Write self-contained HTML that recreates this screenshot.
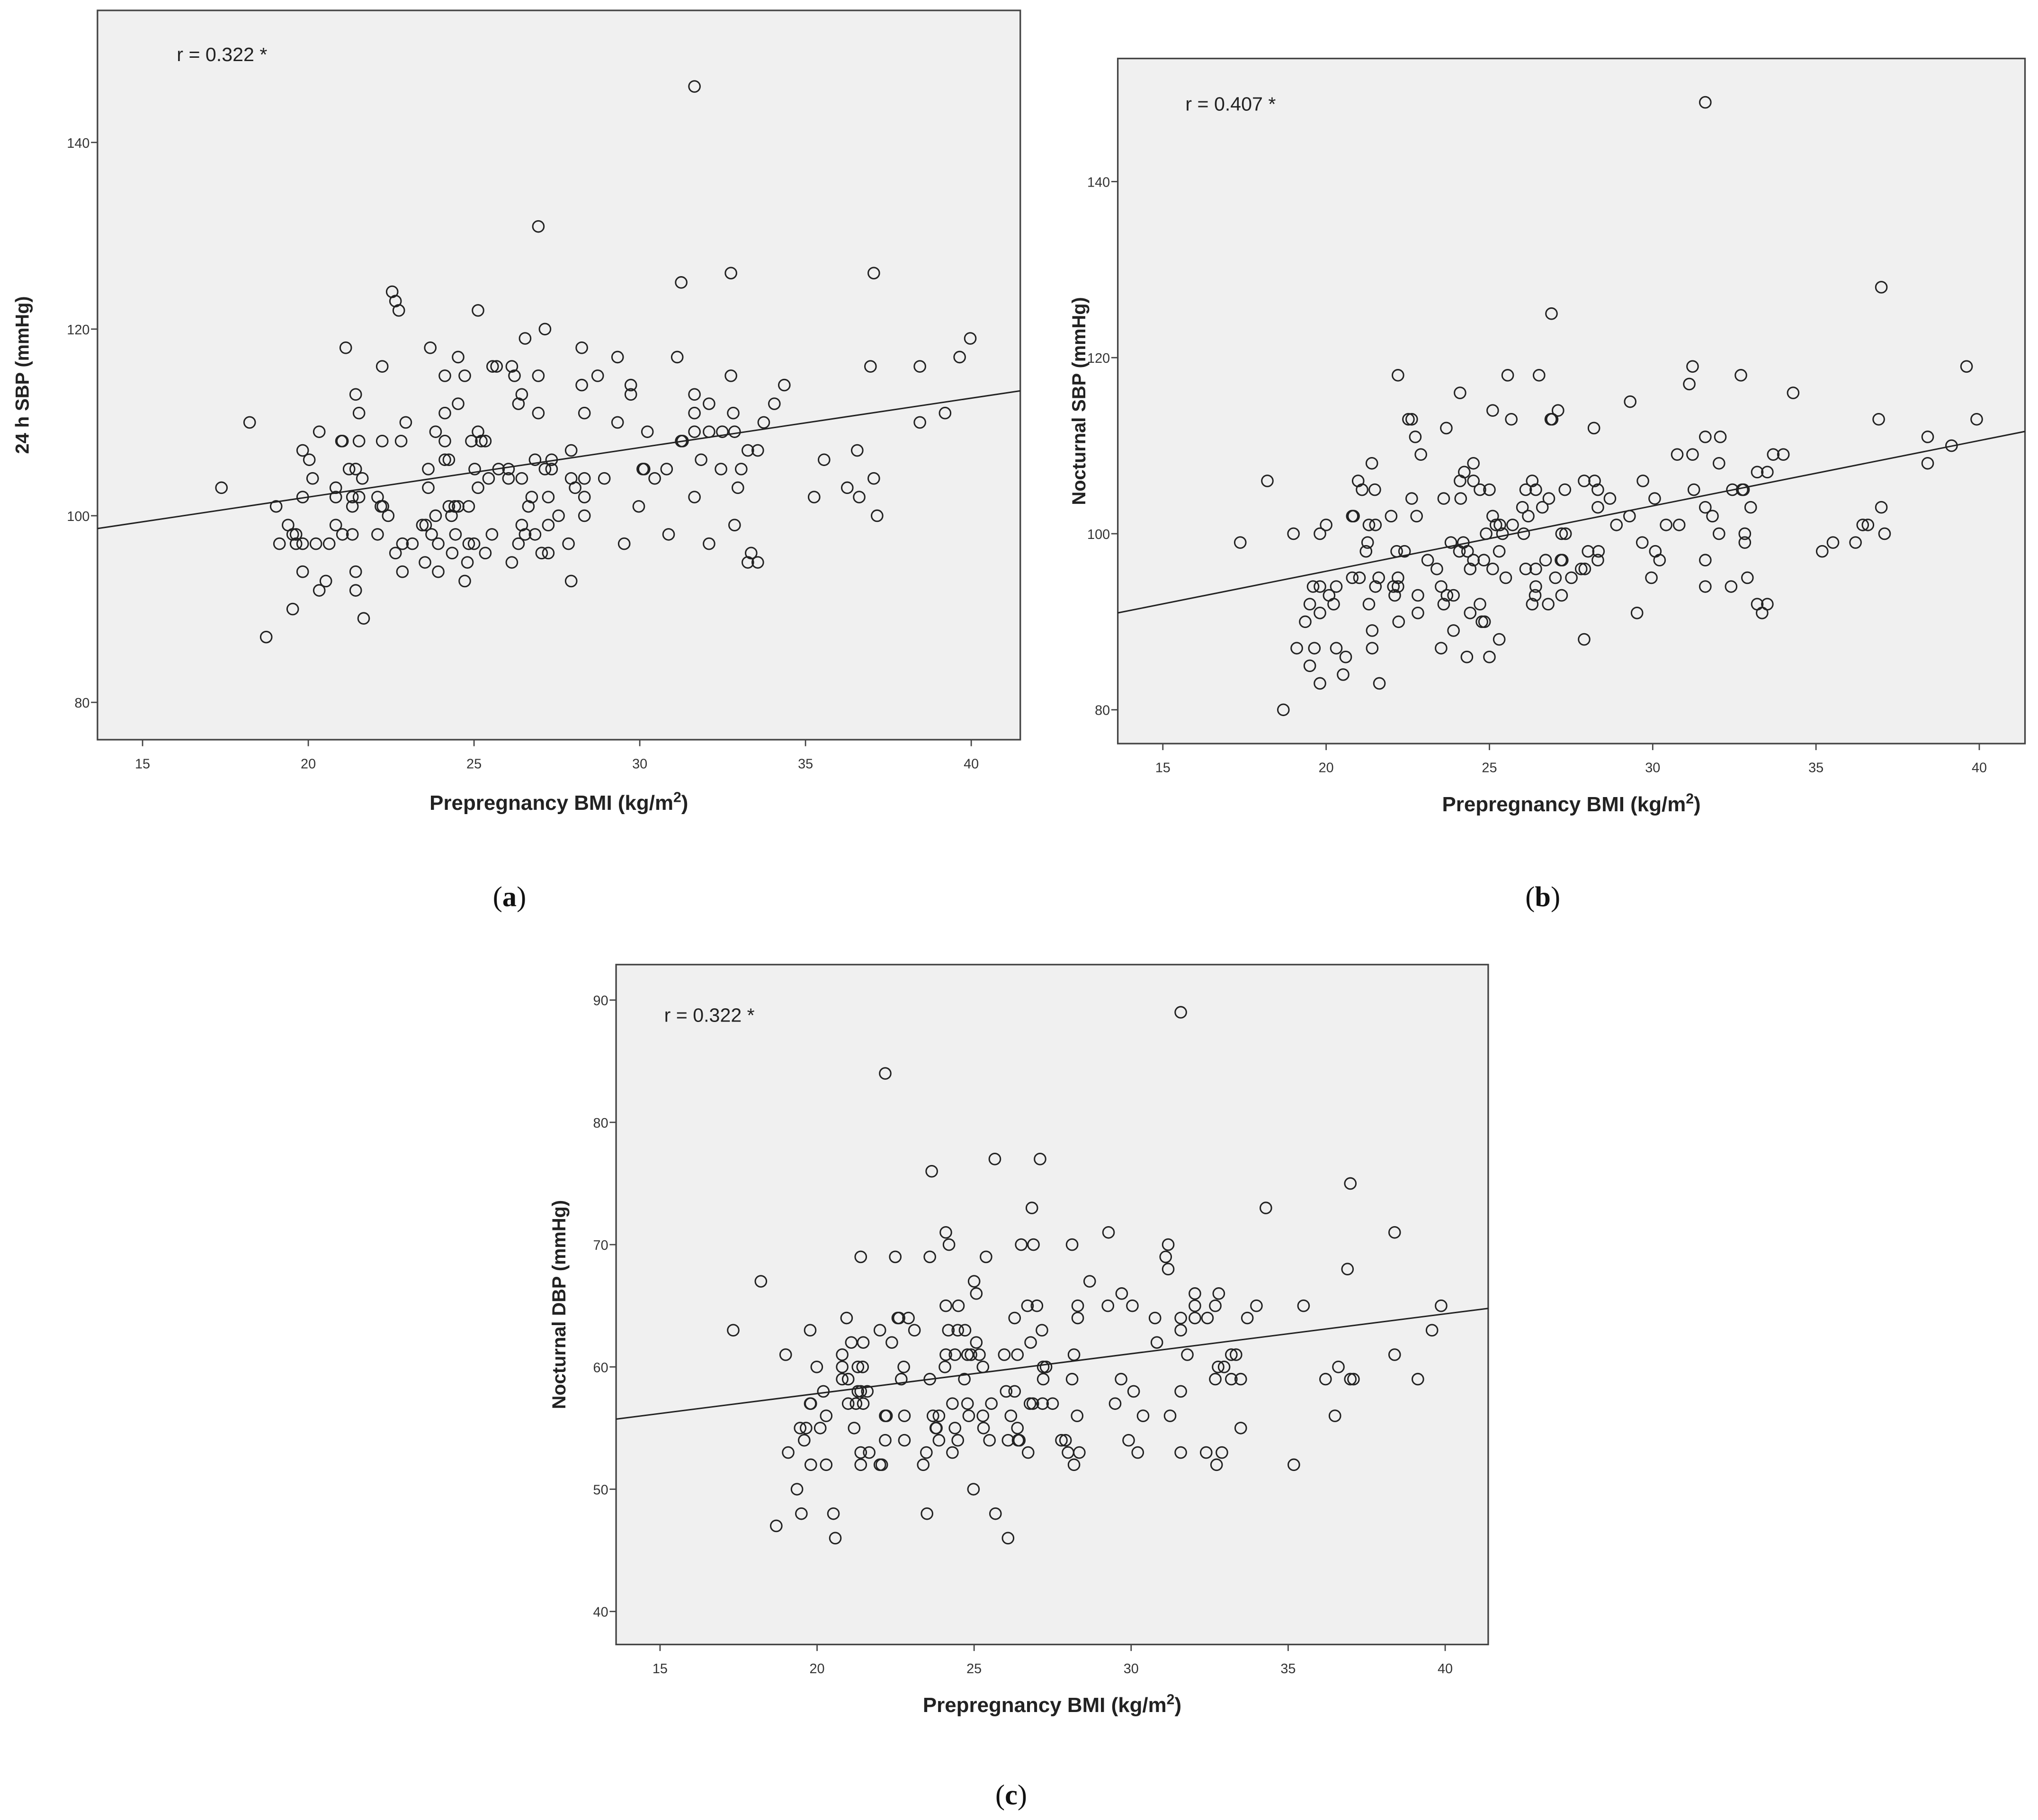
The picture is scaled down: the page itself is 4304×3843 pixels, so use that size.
<!DOCTYPE html>
<html><head><meta charset="utf-8"><style>
html,body{margin:0;padding:0;background:#fff;}
svg{display:block;}
</style></head><body>
<svg id="fig" width="4304" height="3843" viewBox="0 0 1568 1400" preserveAspectRatio="none" xmlns="http://www.w3.org/2000/svg"></svg>
<script>
// ---- data ----
const xTicks=[15,20,25,30,35,40];
const yTicksA=[80,100,120,140];
const yTicksB=[80,100,120,140];
const yTicksC=[40,50,60,70,80,90];
const fitA=[91.4,0.53];
const fitB=[80.9,0.742];
const fitC=[51.3,0.326];
const rLabels=["r = 0.322 *","r = 0.407 *","r = 0.322 *"];
const bmiA=[31.65,26.94,32.75,37.06,31.25,22.53,22.63,22.73,25.12,27.14,39.97,26.54,21.13,23.68,28.25,22.23,25.56,25.68,26.14,36.96,38.45,24.52,29.33,31.13,39.65,24.12,24.72,26.22,26.94,28.73,32.75,21.43,26.44,29.73,31.65,28.25,29.73,34.36,24.52,26.34,32.09,34.06,21.53,24.12,26.94,28.33,31.65,32.82,39.21,18.23,22.94,29.33,33.74,38.45,20.33,23.84,25.12,30.23,31.65,32.09,32.49,32.86,21.0,21.03,21.53,22.23,22.8,24.12,24.92,25.22,25.34,31.25,31.29,19.83,27.93,33.26,33.56,36.56,20.03,24.12,24.24,26.84,27.34,31.85,35.56,21.23,21.43,23.62,25.02,25.74,26.04,27.14,27.34,30.09,30.13,30.81,32.45,33.06,20.13,21.63,25.44,26.04,26.44,27.93,28.33,28.93,30.45,37.06,20.83,23.62,25.12,28.05,32.96,36.26,17.38,19.83,20.83,21.33,21.53,22.09,26.74,27.24,28.33,31.65,35.26,36.62,19.03,21.33,22.19,22.25,24.24,24.42,24.52,24.84,26.64,29.97,22.41,23.84,24.32,27.55,28.33,37.16,19.39,20.83,23.44,23.54,26.44,27.24,32.86,19.53,19.63,21.03,21.33,22.09,23.72,24.44,25.54,26.54,26.84,30.87,19.13,19.63,19.83,20.23,20.63,22.84,23.14,23.92,24.84,25.0,26.34,27.85,29.53,32.09,22.63,25.34,24.34,27.04,27.24,33.36,23.52,24.8,26.14,33.26,33.56,19.83,21.43,22.84,23.92,20.53,24.72,27.93,20.33,21.43,19.53,21.67,18.73];
const sbpA=[146,131,126,126,125,124,123,122,122,120,119,119,118,118,118,116,116,116,116,116,116,117,117,117,117,115,115,115,115,115,115,113,113,113,113,114,114,114,112,112,112,112,111,111,111,111,111,111,111,110,110,110,110,110,109,109,109,109,109,109,109,109,108,108,108,108,108,108,108,108,108,108,108,107,107,107,107,107,106,106,106,106,106,106,106,105,105,105,105,105,105,105,105,105,105,105,105,105,104,104,104,104,104,104,104,104,104,104,103,103,103,103,103,103,103,102,102,102,102,102,102,102,102,102,102,102,101,101,101,101,101,101,101,101,101,101,100,100,100,100,100,100,99,99,99,99,99,99,99,98,98,98,98,98,98,98,98,98,98,98,97,97,97,97,97,97,97,97,97,97,97,97,97,97,96,96,96,96,96,96,95,95,95,95,95,94,94,94,94,93,93,93,92,92,90,89,87];
const bmiB=[31.61,37.0,26.9,31.22,39.61,22.2,25.56,26.52,32.7,31.12,24.1,34.3,29.31,25.1,27.1,22.52,22.62,25.67,26.88,26.92,36.92,39.92,23.68,28.2,22.73,31.61,32.07,38.42,39.15,22.9,30.75,31.22,33.69,34.0,21.4,24.51,32.03,38.42,24.23,33.2,33.51,18.2,20.98,24.1,24.51,26.31,27.9,28.22,29.7,21.1,21.49,24.71,25.0,26.11,26.42,27.31,28.32,31.26,32.44,32.74,32.78,22.62,23.6,24.12,26.82,28.69,30.06,26.01,26.62,28.32,31.61,33.0,37.0,20.8,20.84,21.99,22.77,25.1,26.19,29.29,31.83,20.0,21.31,21.51,25.2,25.32,25.71,28.89,30.41,30.81,36.43,36.59,19.0,19.81,24.9,25.4,26.05,27.21,27.33,32.03,32.82,37.1,17.37,21.27,23.82,24.2,29.68,32.82,35.52,36.21,22.16,22.4,24.08,24.33,21.22,25.3,28.02,28.34,30.08,35.19,23.11,24.51,24.83,26.72,27.19,27.23,28.32,30.21,31.61,23.39,24.41,25.1,26.11,26.42,27.81,27.92,20.8,21.02,21.61,22.2,25.5,27.02,27.51,29.96,32.9,19.6,19.81,20.31,21.51,22.06,22.2,23.52,26.42,31.61,32.4,20.09,22.1,22.81,23.7,23.9,26.4,27.21,19.5,20.23,21.31,23.6,24.71,26.31,26.8,33.2,33.51,19.81,22.81,24.41,29.52,33.35,19.36,22.22,24.77,24.85,21.41,23.9,25.3,27.9,19.1,19.64,20.31,21.41,23.52,19.5,20.6,24.31,25.0,20.52,19.81,21.63,18.69];
const sbpB=[149,128,125,119,119,118,118,118,118,117,116,116,115,114,114,113,113,113,113,113,113,113,112,112,111,111,111,111,110,109,109,109,109,109,108,108,108,108,107,107,107,106,106,106,106,106,106,106,106,105,105,105,105,105,105,105,105,105,105,105,105,104,104,104,104,104,104,103,103,103,103,103,103,102,102,102,102,102,102,102,102,101,101,101,101,101,101,101,101,101,101,101,100,100,100,100,100,100,100,100,100,100,99,99,99,99,99,99,99,99,98,98,98,98,98,98,98,98,98,98,97,97,97,97,97,97,97,97,97,96,96,96,96,96,96,96,95,95,95,95,95,95,95,95,95,94,94,94,94,94,94,94,94,94,94,93,93,93,93,93,93,93,92,92,92,92,92,92,92,92,92,91,91,91,91,91,90,90,90,90,89,89,88,88,87,87,87,87,87,85,86,86,86,84,83,83,80];
const bmiC=[31.58,22.17,25.66,27.1,23.65,36.98,26.84,34.29,29.28,24.1,38.39,24.2,26.5,26.89,28.12,31.18,21.39,22.49,23.59,25.38,31.1,31.18,36.89,18.21,28.68,25.0,25.07,29.7,32.03,32.79,24.1,24.5,26.7,27.0,28.3,29.26,30.04,32.03,32.68,33.99,35.49,39.87,20.94,22.57,22.61,22.91,26.29,28.3,30.76,31.58,32.03,32.43,33.7,17.33,19.78,22.0,23.1,24.18,24.48,24.71,27.16,31.58,39.58,21.09,21.47,22.38,25.07,26.8,30.82,19.0,20.8,24.1,24.39,24.79,24.9,25.17,25.96,26.38,28.18,31.79,33.19,33.34,38.39,19.99,20.8,21.3,21.45,22.76,24.07,25.28,27.2,27.29,32.77,32.96,36.6,20.8,20.99,22.68,23.59,24.69,27.2,28.12,29.68,32.68,33.19,33.49,36.19,36.98,37.08,39.13,20.2,21.3,21.39,21.6,26.02,26.29,30.08,31.58,19.8,19.78,20.99,21.24,21.47,24.31,24.79,25.55,26.78,26.87,27.18,27.5,29.49,20.29,22.17,22.21,22.78,23.69,23.88,24.83,25.28,26.17,28.28,30.38,31.24,36.49,19.46,19.65,20.1,21.18,23.78,23.8,24.39,25.3,26.38,33.49,19.59,22.17,22.78,23.88,24.48,25.49,26.08,26.4,26.44,27.78,27.91,29.92,19.08,21.39,21.66,23.48,24.31,26.72,27.99,28.35,30.21,31.58,32.39,32.89,19.8,20.29,21.39,22.0,22.06,23.38,28.18,32.72,35.18,19.36,24.98,19.5,20.52,23.5,25.68,18.7,20.58,26.08];
const dbpC=[89,84,77,77,76,75,73,73,71,71,71,70,70,70,70,70,69,69,69,69,69,68,68,67,67,67,66,66,66,66,65,65,65,65,65,65,65,65,65,65,65,65,64,64,64,64,64,64,64,64,64,64,64,63,63,63,63,63,63,63,63,63,63,62,62,62,62,62,62,61,61,61,61,61,61,61,61,61,61,61,61,61,61,60,60,60,60,60,60,60,60,60,60,60,60,59,59,59,59,59,59,59,59,59,59,59,59,59,59,59,58,58,58,58,58,58,58,58,57,57,57,57,57,57,57,57,57,57,57,57,57,56,56,56,56,56,56,56,56,56,56,56,56,56,55,55,55,55,55,55,55,55,55,55,54,54,54,54,54,54,54,54,54,54,54,54,53,53,53,53,53,53,53,53,53,53,53,53,52,52,52,52,52,52,52,52,52,50,50,48,48,48,48,47,46,46];

// ---- layout ----
const panels=[
 {id:'a',box:[75,8,785,569],xd:[13.64,41.48],yd:[76,154.15],xs:bmiA,ys:sbpA,yt:yTicksA,fit:fitA,r:rLabels[0],ytitle:'24 h SBP (mmHg)',ytx:22,xtitleY:623,cap:'(a)',capX:392,capY:697,rx:136,ry:47},
 {id:'b',box:[860,45,1558,572],xd:[13.62,41.4],yd:[76.16,153.98],xs:bmiB,ys:sbpB,yt:yTicksB,fit:fitB,r:rLabels[1],ytitle:'Nocturnal SBP (mmHg)',ytx:835,xtitleY:624,cap:'(b)',capX:1187,capY:697,rx:912,ry:85},
 {id:'c',box:[474,742,1145,1265],xd:[13.6,41.37],yd:[37.3,92.9],xs:bmiC,ys:dbpC,yt:yTicksC,fit:fitC,r:rLabels[2],ytitle:'Nocturnal DBP (mmHg)',ytx:435,xtitleY:1317,cap:'(c)',capX:778,capY:1388,rx:511,ry:786}
];
const NS='http://www.w3.org/2000/svg';
const svg=document.getElementById('fig');
function mk(tag,attrs,parent){const e=document.createElementNS(NS,tag);for(const k in attrs)e.setAttribute(k,attrs[k]);(parent||svg).appendChild(e);return e;}
const SANS='"Liberation Sans", Arial, sans-serif';
panels.forEach(p=>{
  const [x0,y0,x1,y1]=p.box;
  const sx=v=>x0+(v-p.xd[0])/(p.xd[1]-p.xd[0])*(x1-x0);
  const sy=v=>y1-(v-p.yd[0])/(p.yd[1]-p.yd[0])*(y1-y0);
  const g=mk('g',{});
  
  
  const bg=mk('rect',{x:x0,y:y0,width:x1-x0,height:y1-y0,fill:'#f0f0f0',stroke:'#444','stroke-width':1.2},g);
  
  
  p.yt.forEach(v=>{
    const y=sy(v);
    const t=mk('line',{x1:x0-5,y1:y,x2:x0,y2:y,stroke:'#444','stroke-width':1},g);
    
    
    const l=mk('text',{x:x0-6,y:y+4,'text-anchor':'end','font-family':SANS,'font-size':10.5,fill:'#333'},g);
    l.textContent=v;
    
    
  });
  xTicks.forEach(v=>{
    const x=sx(v);
    const t=mk('line',{x1:x,y1:y1,x2:x,y2:y1+5,stroke:'#444','stroke-width':1},g);
    
    
    const l=mk('text',{x:x,y:y1+22,'text-anchor':'middle','font-family':SANS,'font-size':10.5,fill:'#333'},g);
    l.textContent=v;
    
    
  });
  const fx0=p.xd[0],fx1=p.xd[1];
  const fl=mk('line',{x1:sx(fx0),y1:sy(p.fit[0]+p.fit[1]*fx0),x2:sx(fx1),y2:sy(p.fit[0]+p.fit[1]*fx1),stroke:'#222','stroke-width':1.1},g);
  
  
  p.xs.forEach((xv,i)=>{
    const c=mk('circle',{cx:sx(xv),cy:sy(p.ys[i]),r:4.3,fill:'none',stroke:'#222','stroke-width':1.1},g);
    
    
  });
  const rt=mk('text',{x:p.rx,y:p.ry,'font-family':SANS,'font-size':15,fill:'#222'},g);
  rt.textContent=p.r;
  
  
  const cy=(y0+y1)/2;
  const yt=mk('text',{x:p.ytx,y:cy,'text-anchor':'middle','font-family':SANS,'font-size':14.5,'font-weight':'bold',fill:'#222',transform:'rotate(-90 '+p.ytx+' '+cy+')'},g);
  yt.textContent=p.ytitle;
  
  
  const xt=mk('text',{x:(x0+x1)/2,y:p.xtitleY,'text-anchor':'middle','font-family':SANS,'font-size':16,'font-weight':'bold',fill:'#222'},g);
  xt.innerHTML='Prepregnancy BMI (kg/m<tspan dy="-6" font-size="11">2</tspan><tspan dy="6">)</tspan>';
  
  
  const cp=mk('text',{x:p.capX,y:p.capY,'text-anchor':'middle','font-family':'"Liberation Serif", serif','font-size':22,fill:'#111'},svg);
  cp.innerHTML='(<tspan font-weight="bold">'+p.id+'</tspan>)';
  
  
});
</script>
</body></html>
